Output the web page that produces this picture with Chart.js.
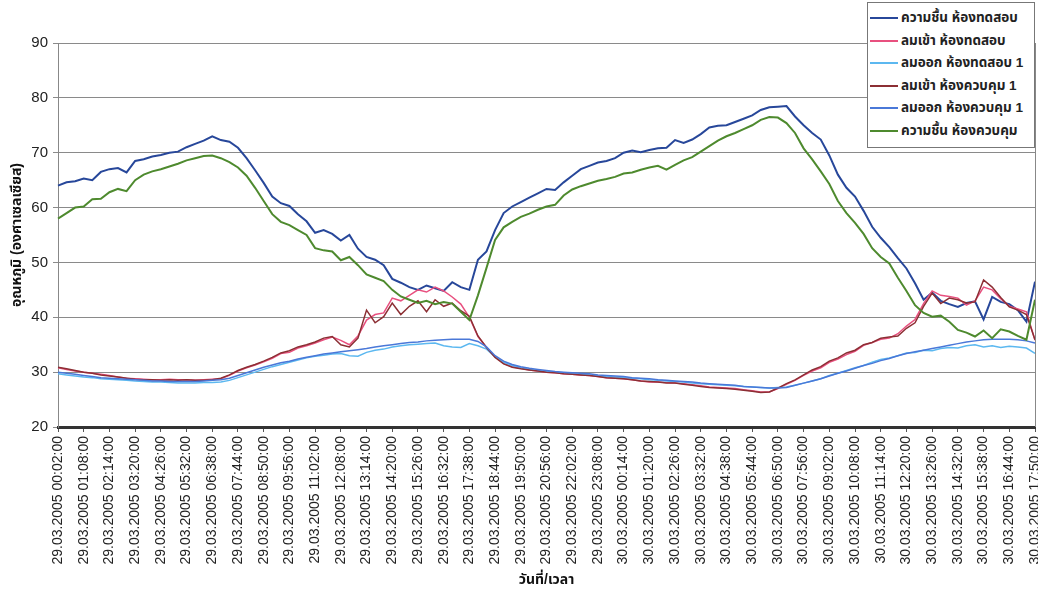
<!DOCTYPE html>
<html lang="th">
<head>
    <meta charset="UTF-8">
    <title>อุณหภูมิ ห้องทดสอบ / ห้องควบคุม</title>
    <script src="https://cdn.jsdelivr.net/npm/chart.js"></script>
    <style>
        body {
            margin: 0;
            background: #fff;
            font-family: "Liberation Sans", Arial, "Noto Sans Thai", sans-serif;
        }
        .wrap {
            position: relative;
            width: 1038px;
            height: 594px;
        }
        #legend {
            position: absolute;
            left: 867px;
            top: 2px;
            width: 168px;
            height: 146px;
            border: 1px solid #777;
            background: #fff;
            box-sizing: border-box;
            padding-top: 4px;
        }
        #legend .item {
            display: flex;
            align-items: center;
            height: 22.5px;
            font-size: 13.5px;
            font-weight: bold;
            color: #222;
            white-space: nowrap;
        }
        #legend .swatch {
            width: 28px;
            height: 0;
            margin: 0 3px 0 2px;
            border-top: 2px solid;
        }
    </style>
</head>
<body>
<div class="wrap">
    <canvas id="tempChart" width="1038" height="594"></canvas>
    <div id="legend"></div>
</div>

<script>
    // series names (legend order)
    const seriesNames = [
        'ความชื้น ห้องทดสอบ',
        'ลมเข้า ห้องทดสอบ',
        'ลมออก ห้องทดสอบ 1',
        'ลมเข้า ห้องควบคุม 1',
        'ลมออก ห้องควบคุม 1',
        'ความชื้น ห้องควบคุม'
    ];
    const seriesColors = ['#27479a', '#e8507f', '#5cb8f0', '#8c2f34', '#4a78d8', '#4e8a2e'];

    // labels shown on the x axis (every 66 minutes)
    const tickLabels = [
        '29.03.2005 00:02:00', '29.03.2005 01:08:00', '29.03.2005 02:14:00', '29.03.2005 03:20:00',
        '29.03.2005 04:26:00', '29.03.2005 05:32:00', '29.03.2005 06:38:00', '29.03.2005 07:44:00',
        '29.03.2005 08:50:00', '29.03.2005 09:56:00', '29.03.2005 11:02:00', '29.03.2005 12:08:00',
        '29.03.2005 13:14:00', '29.03.2005 14:20:00', '29.03.2005 15:26:00', '29.03.2005 16:32:00',
        '29.03.2005 17:38:00', '29.03.2005 18:44:00', '29.03.2005 19:50:00', '29.03.2005 20:56:00',
        '29.03.2005 22:02:00', '29.03.2005 23:08:00', '30.03.2005 00:14:00', '30.03.2005 01:20:00',
        '30.03.2005 02:26:00', '30.03.2005 03:32:00', '30.03.2005 04:38:00', '30.03.2005 05:44:00',
        '30.03.2005 06:50:00', '30.03.2005 07:56:00', '30.03.2005 09:02:00', '30.03.2005 10:08:00',
        '30.03.2005 11:14:00', '30.03.2005 12:20:00', '30.03.2005 13:26:00', '30.03.2005 14:32:00',
        '30.03.2005 15:38:00', '30.03.2005 16:44:00', '30.03.2005 17:50:00'
    ];
    const pointsPerTick = 3; // one reading every 22 minutes

    // values (°C), 115 readings each
    const humidTest = [
        64.0, 64.6, 64.8, 65.3, 65.0, 66.5, 67.0, 67.2, 66.4, 68.5,
        68.8, 69.3, 69.6, 70.0, 70.2, 71.0, 71.6, 72.2, 73.0, 72.3,
        72.0, 70.9, 69.0, 66.8, 64.5, 62.0, 60.8, 60.3, 58.8, 57.5,
        55.4, 55.9, 55.2, 54.0, 55.0, 52.5, 51.0, 50.5, 49.5, 47.0,
        46.3, 45.5, 45.0, 45.8, 45.3, 44.8, 46.4, 45.5, 45.0, 50.5,
        52.0, 55.9, 59.0, 60.2, 61.0, 61.8, 62.6, 63.4, 63.2, 64.6,
        65.8, 67.0, 67.6, 68.2, 68.5, 69.0, 70.0, 70.4, 70.1, 70.5,
        70.8, 70.9, 72.3, 71.8, 72.4, 73.4, 74.6, 74.9, 75.0, 75.6,
        76.2, 76.8, 77.8, 78.3, 78.4, 78.5, 76.6, 75.0, 73.6, 72.4,
        69.5, 66.0, 63.6, 62.0, 59.4, 56.5, 54.5, 52.8, 50.8, 48.9,
        46.2, 43.2, 44.5, 43.0, 42.4, 41.9, 42.6, 42.9, 39.6, 43.7,
        42.8, 42.4, 41.3, 39.2, 46.5
    ];
    const inletTest = [
        30.8, 30.5, 30.2, 30.0, 29.8, 29.6, 29.4, 29.1, 28.9, 28.8,
        28.7, 28.6, 28.6, 28.7, 28.6, 28.6, 28.5, 28.6, 28.7, 28.8,
        29.4, 30.2, 30.8, 31.3, 31.9, 32.5, 33.4, 33.6, 34.4, 34.8,
        35.3, 35.9, 36.4, 35.8, 35.0, 36.6, 39.5, 40.5, 40.8, 43.5,
        43.0, 44.0, 45.0, 44.6, 45.5, 44.8, 43.7, 42.4, 40.0, 36.5,
        34.5, 32.8, 31.6, 31.0, 30.7, 30.4, 30.2, 30.0, 29.9, 29.7,
        29.6, 29.5, 29.4, 29.2, 29.0, 28.9, 28.8, 28.6, 28.4, 28.2,
        28.2, 28.1, 28.0, 27.9, 27.7, 27.5, 27.3, 27.2, 27.1, 27.0,
        26.8, 26.6, 26.4, 26.4, 27.0, 27.8, 28.5, 29.4, 30.2, 30.8,
        31.8, 32.4, 33.2, 33.8, 34.9, 35.4, 36.0, 36.2, 37.0, 38.4,
        39.6, 42.5, 44.8, 44.0, 43.8, 43.5, 42.2, 43.0, 45.5, 45.0,
        43.4, 42.0, 41.5, 41.0, 35.8
    ];
    const outletTest = [
        29.7, 29.5, 29.3, 29.1, 29.0, 28.8, 28.7, 28.6, 28.5, 28.4,
        28.3, 28.2, 28.2, 28.1, 28.0, 28.0, 28.0, 28.1, 28.1, 28.2,
        28.5, 29.0, 29.5, 30.0, 30.5, 31.0, 31.4, 31.8, 32.2, 32.6,
        32.9, 33.1, 33.3, 33.4, 33.0, 32.9, 33.6, 34.0, 34.2, 34.6,
        34.8, 35.0, 35.1, 35.2, 35.3, 34.8, 34.6, 34.5, 35.2, 34.8,
        34.2, 32.8, 31.8, 31.2, 30.8, 30.5, 30.3, 30.1, 30.0, 29.9,
        29.7, 29.6, 29.5, 29.3, 29.2, 29.1, 29.0, 28.9, 28.8, 28.6,
        28.5, 28.4, 28.3, 28.2, 28.0, 27.9, 27.8, 27.7, 27.6, 27.5,
        27.4, 27.3, 27.2, 27.1, 27.2, 27.3, 27.6, 28.0, 28.4, 28.8,
        29.4, 29.8, 30.3, 30.8, 31.2, 31.8, 32.3, 32.6, 33.0, 33.5,
        33.6, 34.0, 33.9, 34.3, 34.5, 34.4, 34.8, 35.0, 34.6, 34.8,
        34.5, 34.7, 34.6, 34.4, 33.4
    ];
    const inletControl = [
        30.9, 30.6, 30.3, 30.0, 29.8, 29.5, 29.3, 29.1, 28.9, 28.7,
        28.6, 28.6, 28.5, 28.6, 28.5, 28.6, 28.5, 28.5, 28.6, 28.9,
        29.5, 30.3, 30.9, 31.4, 32.0, 32.7, 33.5, 33.9, 34.6, 35.0,
        35.5, 36.2, 36.5, 35.0, 34.6, 36.2, 41.3, 39.0, 40.1, 42.6,
        40.5, 42.0, 43.0, 41.0, 43.2, 42.0, 42.6, 41.2, 40.2, 36.6,
        34.5, 32.7, 31.5, 30.9, 30.6, 30.4, 30.2, 30.0, 29.9, 29.7,
        29.6, 29.5, 29.4, 29.2, 29.0, 28.9, 28.8, 28.6, 28.4, 28.3,
        28.2, 28.0, 28.0, 27.8, 27.6, 27.4, 27.2, 27.1, 27.0, 26.9,
        26.7, 26.5, 26.3, 26.4, 27.1, 27.9, 28.6, 29.5, 30.4, 31.0,
        32.0, 32.6, 33.5, 34.0, 35.0, 35.4, 36.2, 36.4, 36.6, 38.0,
        39.0, 42.0, 44.4, 42.5, 43.5, 43.2, 42.6, 42.8, 46.8, 45.5,
        43.6, 41.9, 41.3, 40.5, 35.9
    ];
    const outletControl = [
        30.0, 29.8, 29.6, 29.4, 29.2, 29.0, 28.9, 28.8, 28.7, 28.6,
        28.5, 28.4, 28.4, 28.3, 28.3, 28.3, 28.3, 28.4, 28.5, 28.6,
        28.9, 29.4, 29.9, 30.4, 30.9, 31.3, 31.7, 32.0, 32.4, 32.7,
        33.0, 33.3, 33.5, 33.7, 33.9, 34.1, 34.3, 34.6, 34.8, 35.0,
        35.2, 35.4, 35.5, 35.7, 35.8, 35.9, 36.0, 36.0, 36.0, 35.6,
        34.6, 33.0, 32.0, 31.4, 31.0, 30.7, 30.5, 30.3, 30.1, 30.0,
        29.9, 29.8, 29.7, 29.5, 29.4, 29.3, 29.2, 29.0, 28.9, 28.8,
        28.6, 28.5, 28.4, 28.3, 28.2, 28.0, 27.9, 27.8, 27.7, 27.6,
        27.4, 27.3, 27.2, 27.1, 27.1, 27.2, 27.6, 28.0, 28.4, 28.8,
        29.3, 29.8, 30.2, 30.7, 31.2, 31.6, 32.1, 32.5, 33.0, 33.4,
        33.7, 34.0, 34.3, 34.6, 34.9, 35.2, 35.5, 35.7, 35.9, 36.0,
        36.0, 36.0, 35.9, 35.7, 35.3
    ];
    const humidControl = [
        58.0, 59.0, 60.0, 60.2, 61.5, 61.6, 62.8, 63.4, 63.0, 65.0,
        66.0, 66.6, 67.0, 67.5, 68.0, 68.6, 69.0, 69.4, 69.5, 69.0,
        68.3, 67.3, 65.8, 63.6, 61.2, 58.8, 57.4, 56.8, 55.9, 55.0,
        52.6, 52.2, 52.0, 50.4, 51.0, 49.5, 47.8, 47.2, 46.6, 45.0,
        43.8, 43.2, 42.6, 43.0, 42.4, 42.8, 42.5, 41.0, 39.5, 44.0,
        49.0, 54.1, 56.4, 57.4, 58.3, 58.9, 59.6, 60.2, 60.5, 62.2,
        63.3, 63.9, 64.4, 64.9, 65.2, 65.6, 66.2, 66.4, 66.9, 67.3,
        67.6, 66.9, 67.8, 68.6, 69.2, 70.2, 71.2, 72.2, 73.0, 73.6,
        74.3, 75.0, 76.0, 76.5, 76.4, 75.4, 73.6, 70.8, 68.8, 66.6,
        64.3, 61.2, 59.0, 57.2, 55.2, 52.6, 51.0, 49.8, 47.2, 44.8,
        42.2, 40.8, 40.1, 40.3, 39.2, 37.7, 37.2, 36.5, 37.6, 36.2,
        37.8, 37.4, 36.6, 35.9, 43.2
    ];

    const yTicks = { min: 20, max: 90, step: 10 };

    // category for every reading: 22 minutes apart starting 29.03.2005 00:02
    function stamp(min) {
        const day = 29 + Math.floor(min / 1440);
        const m = min % 1440;
        const hh = String(Math.floor(m / 60)).padStart(2, '0');
        const mm = String(m % 60).padStart(2, '0');
        return day + '.03.2005 ' + hh + ':' + mm + ':00';
    }
    const categories = humidTest.map((_, k) => stamp(2 + k * 22));

    const seriesData = [humidTest, inletTest, outletTest, inletControl, outletControl, humidControl];
    const widths = [2, 1.5, 1.5, 1.5, 1.5, 2];

    const fontFamily = '"Liberation Sans", Arial, "Noto Sans Thai", sans-serif';

    // Excel-like frame on the right side of the plot
    const frameRight = {
        id: 'frameRight',
        afterDraw(chart) {
            const { ctx, chartArea } = chart;
            ctx.save();
            ctx.strokeStyle = '#888';
            ctx.lineWidth = 1;
            ctx.beginPath();
            ctx.moveTo(chartArea.right + 0.5, chartArea.top);
            ctx.lineTo(chartArea.right + 0.5, chartArea.bottom);
            ctx.stroke();
            ctx.restore();
        }
    };

    const ctx = document.getElementById('tempChart').getContext('2d');
    const tempChart = new Chart(ctx, {
        type: 'line',
        data: {
            labels: categories,
            datasets: seriesData.map((d, i) => ({
                label: seriesNames[i],
                data: d,
                borderColor: seriesColors[i],
                backgroundColor: seriesColors[i],
                borderWidth: widths[i],
                pointRadius: 0,
                tension: 0,
                order: -i
            }))
        },
        options: {
            responsive: false,
            animation: false,
            layout: { padding: { top: 43, right: 3, left: 0, bottom: 0 } },
            plugins: {
                legend: { display: false },
                tooltip: { enabled: false }
            },
            scales: {
                x: {
                    grid: {
                        drawOnChartArea: false,
                        tickLength: 5,
                        tickColor: c => (c.index % pointsPerTick === 0 ? '#555' : 'rgba(0,0,0,0)')
                    },
                    border: { color: '#333', width: 3 },
                    ticks: {
                        autoSkip: false,
                        minRotation: 90,
                        maxRotation: 90,
                        padding: 4,
                        color: '#222',
                        font: { family: fontFamily, size: 14 },
                        callback: (v, i) => (i % pointsPerTick === 0 ? tickLabels[i / pointsPerTick] : '')
                    },
                    title: {
                        display: true,
                        text: 'วันที่/เวลา',
                        color: '#111',
                        font: { family: fontFamily, size: 14, weight: 'bold' },
                        padding: { top: 0, bottom: 5 }
                    },
                    afterFit: s => {
                        s.height = 594 - 427;
                        s.paddingLeft = 0;
                        s.paddingRight = 0;
                    }
                },
                y: {
                    min: yTicks.min,
                    max: yTicks.max,
                    grid: { color: '#8a8a8a', tickLength: 5 },
                    border: { color: '#888' },
                    ticks: {
                        stepSize: yTicks.step,
                        padding: 5,
                        color: '#222',
                        font: { family: fontFamily, size: 15 }
                    },
                    title: {
                        display: true,
                        text: 'อุณหภูมิ (องศาเซลเซียส)',
                        color: '#111',
                        font: { family: fontFamily, size: 14, weight: 'bold' },
                        padding: { top: 9, bottom: 0 }
                    },
                    afterFit: s => { s.width = 58; }
                }
            }
        },
        plugins: [frameRight]
    });

    // legend drawn as html, boxed in the top right corner like the original
    const legendBox = document.getElementById('legend');
    tempChart.data.datasets.forEach(ds => {
        const row = document.createElement('div');
        row.className = 'item';
        const sw = document.createElement('span');
        sw.className = 'swatch';
        sw.style.borderColor = ds.borderColor;
        row.appendChild(sw);
        row.appendChild(document.createTextNode(ds.label));
        legendBox.appendChild(row);
    });
</script>
</body>
</html>
